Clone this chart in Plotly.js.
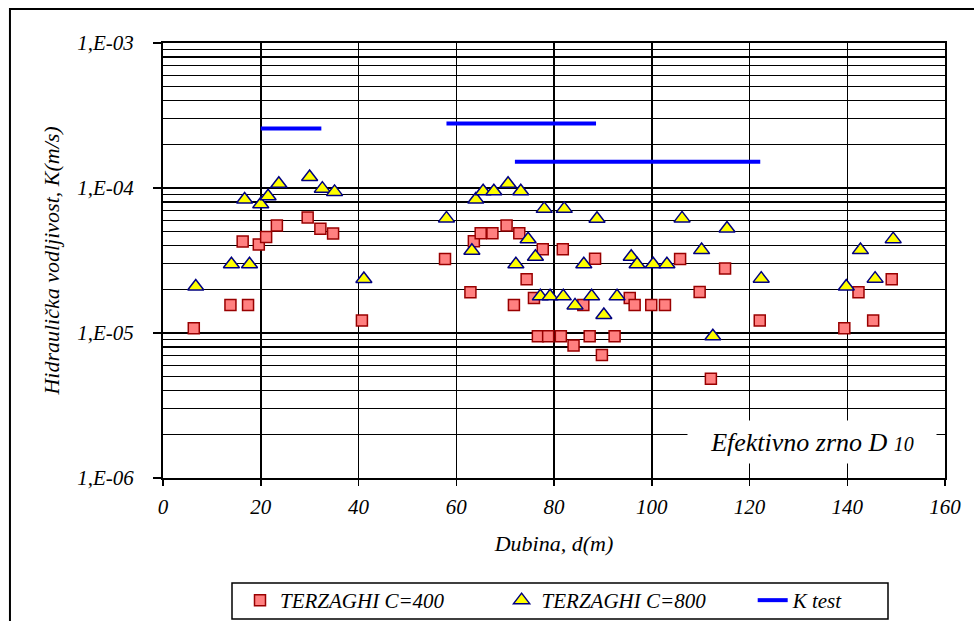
<!DOCTYPE html>
<html>
<head>
<meta charset="utf-8">
<script src="https://cdn.plot.ly/plotly-3.0.1.min.js"></script>
<style>
html,body{margin:0;padding:0;background:#fff;}
#chart{width:974px;height:621px;}
</style>
</head>
<body>
<div id="chart"></div>
<script>
// TERZAGHI C=400 (squares)
const depth400 = [6.3,13.8,17.4,16.3,19.6,21.1,23.3,29.6,32.2,34.8,40.7,
  57.7,62.9,63.6,65.0,67.4,70.3,72.9,77.7,81.8,74.4,71.8,75.9,76.7,78.8,81.4,84.0,
  88.4,86.0,95.5,96.5,99.9,102.7,87.3,92.4,89.8,105.8,115.0,109.8,122.1,112.1,
  139.4,142.3,145.3,149.1];
const k400 = [1.08e-5,1.56e-5,1.56e-5,4.28e-5,4.08e-5,4.6e-5,5.52e-5,6.27e-5,5.23e-5,4.86e-5,1.22e-5,
  3.24e-5,1.91e-5,4.3e-5,4.87e-5,4.87e-5,5.52e-5,4.87e-5,3.78e-5,3.78e-5,2.35e-5,1.56e-5,1.74e-5,9.5e-6,9.5e-6,9.5e-6,8.2e-6,
  3.25e-5,1.56e-5,1.74e-5,1.56e-5,1.56e-5,1.56e-5,9.5e-6,9.5e-6,7.06e-6,3.24e-5,2.79e-5,1.92e-5,1.22e-5,4.83e-6,
  1.08e-5,1.91e-5,1.22e-5,2.35e-5];

// TERZAGHI C=800 (triangles)
const depth800 = [6.7,14.0,17.7,16.7,20.0,21.5,23.7,30.0,32.6,35.1,41.1,
  58.0,63.2,64.0,65.5,67.7,70.6,73.2,74.7,76.2,72.2,78.0,82.1,88.8,77.2,79.2,81.9,84.3,87.7,86.1,
  90.2,92.9,95.8,97.0,100.3,103.1,106.2,115.4,110.2,122.4,112.5,
  139.8,142.7,145.7,149.4];
const k800 = [2.09e-5,2.98e-5,2.98e-5,8.32e-5,7.73e-5,8.77e-5,1.07e-4,1.19e-4,9.9e-5,9.4e-5,2.36e-5,
  6.17e-5,3.69e-5,8.32e-5,9.49e-5,9.49e-5,1.07e-4,9.49e-5,4.43e-5,3.36e-5,2.98e-5,7.18e-5,7.18e-5,6.13e-5,1.79e-5,1.79e-5,1.79e-5,1.55e-5,1.79e-5,2.98e-5,
  1.33e-5,1.79e-5,3.36e-5,2.98e-5,2.98e-5,2.98e-5,6.17e-5,5.26e-5,3.73e-5,2.37e-5,9.5e-6,
  2.09e-5,3.73e-5,2.37e-5,4.44e-5];

// K test segments (null separates segments)
const depthKtest = [20, 32.4, null, 58, 88.6, null, 72, 122.2];
const kKtest = [2.57e-4, 2.57e-4, null, 2.78e-4, 2.78e-4, null, 1.52e-4, 1.52e-4];

// Series names
const seriesNames = ['TERZAGHI C=400', 'TERZAGHI C=800', 'K test'];

// Axis ticks
const xTicks = [0,20,40,60,80,100,120,140,160];
const yTickVals = [1e-6,1e-5,1e-4,1e-3];
const yTickText = ['1,E-06','1,E-05','1,E-04','1,E-03'];
const minorMult = [2,3,4,5,6,7,8,9];

const yMinor = [];
yTickVals.slice(0,3).forEach(d => minorMult.forEach(m => yMinor.push(d*m)));

const nb = n => '\u00A0'.repeat(n);
const serif = 'Liberation Serif';
const fTick = {family: serif, size: 21, color: '#000', style: 'italic'};
const fTitle = {family: serif, size: 22, color: '#000', style: 'italic'};
const fLeg = {family: serif, size: 21, color: '#000', style: 'italic'};

const traces = [
  {x: depth400, y: k400, type: 'scatter', mode: 'markers', name: seriesNames[0] + nb(10),
   marker: {symbol: 'square', size: 11, color: '#FF8080', line: {color: '#990000', width: 1.5}}},
  {x: depth800, y: k800, type: 'scatter', mode: 'markers', name: seriesNames[1] + nb(8),
   marker: {symbol: 'triangle-up', size: 14, color: '#FFFF00', line: {color: '#000080', width: 1.5}}},
  {x: depthKtest, y: kKtest, type: 'scatter', mode: 'lines', name: seriesNames[2] + nb(3),
   connectgaps: false, line: {color: '#0000FF', width: 4}}
];

// px -> paper helpers for the legend frame
const px2x = p => (p - 163) / 782;
const px2y = p => (478 - p) / 435;

const layout = {
  width: 974, height: 621,
  margin: {l: 163, r: 29, t: 43, b: 143},
  paper_bgcolor: '#fff', plot_bgcolor: '#fff',
  showlegend: true,
  xaxis: {
    range: [0,160], tickvals: xTicks, ticktext: xTicks.map(String),
    showgrid: true, gridcolor: '#000', gridwidth: 1.5,
    showline: true, mirror: true, linecolor: '#000', linewidth: 2,
    ticks: 'outside', ticklen: 6, tickcolor: '#000', tickwidth: 1.5,
    ticklabelstandoff: 3,
    zeroline: false, tickfont: fTick, automargin: false,
    title: {text: 'Dubina, d(m)', font: fTitle, standoff: 17}
  },
  yaxis: {
    type: 'log', range: [-6,-3], tickvals: yTickVals, ticktext: yTickText,
    showgrid: true, gridcolor: '#000', gridwidth: 1.5,
    showline: true, mirror: true, linecolor: '#000', linewidth: 2,
    ticks: 'outside', ticklen: 8, tickcolor: '#000', tickwidth: 1.5,
    ticklabelstandoff: 15,
    zeroline: false, tickfont: fTick, automargin: false,
    minor: {tickmode: 'array', tickvals: yMinor, showgrid: true, gridcolor: '#000', gridwidth: 1.2, ticks: ''},
    title: {text: 'Hidraulička vodljivost, K(m/s)', font: fTitle, standoff: 12}
  },
  legend: {
    orientation: 'h', xref: 'container', yref: 'container',
    x: 240/974, y: 1 - 580/621, xanchor: 'left', yanchor: 'top',
    borderwidth: 0, bgcolor: 'rgba(0,0,0,0)',
    font: fLeg, itemwidth: 30,
    traceorder: 'normal'
  },
  annotations: [{
    xref: 'paper', yref: 'paper', x: 0.83, y: 0.0828, xanchor: 'center', yanchor: 'middle',
    text: "Efektivno zrno D <span style='font-size:20px'>10</span>",
    showarrow: false, bgcolor: '#fff', width: 246, height: 40,
    font: {family: serif, size: 26, color: '#000', style: 'italic'}
  }],
  shapes: [
    {type: 'rect', xref: 'paper', yref: 'paper',
     x0: -0.1957, x1: 1.06, y0: -0.36, y1: 1.078,
     line: {color: '#000', width: 2}, fillcolor: 'rgba(0,0,0,0)', layer: 'below'},
    {type: 'rect', xref: 'paper', yref: 'paper',
     x0: px2x(232), x1: px2x(888), y0: px2y(619), y1: px2y(583),
     line: {color: '#000', width: 1.5}, fillcolor: 'rgba(0,0,0,0)', layer: 'above'}
  ]
};

Plotly.newPlot('chart', traces, layout, {staticPlot: true, displayModeBar: false});
</script>
</body>
</html>
